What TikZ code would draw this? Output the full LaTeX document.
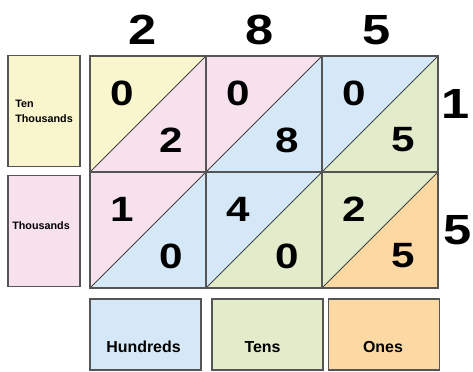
\documentclass[tikz,border=0pt]{standalone}
\usepackage{fontspec}
\setmainfont{Liberation Sans}
\newfontfamily\digitfont[FakeStretch=1.2]{Liberation Sans}
\usetikzlibrary{positioning,calc}
\definecolor{cellyellow}{HTML}{F9F5CC}
\definecolor{cellpink}{HTML}{F6E1EC}
\definecolor{cellblue}{HTML}{D4E8F7}
\definecolor{cellgreen}{HTML}{E2ECCB}
\definecolor{cellorange}{HTML}{FCD9A2}
\definecolor{gridgray}{HTML}{555555}

\begin{document}
\begin{tikzpicture}[
    x=0.3mm, y=-0.3mm,
    gridline/.style={draw=gridgray, line width=1.2pt},
    diag/.style={draw=gridgray!80!black, line width=0.8pt},
    tallbox/.style={gridline, line width=1.4pt, minimum width=21.6mm, minimum height=33.3mm, inner sep=0pt},
    widebox/.style={gridline, line width=1.4pt, minimum width=33.3mm, minimum height=21.3mm, inner sep=0pt},
    celldigit/.style={font=\digitfont\bfseries\fontsize{30}{30}\selectfont, inner sep=0pt},
    bigdigit/.style={font=\digitfont\bfseries\fontsize{36}{36}\selectfont, inner sep=0pt},
    lbl/.style={font=\bfseries\fontsize{13.6}{15}\selectfont, inner sep=0pt},
    lblsmall/.style={font=\bfseries\fontsize{9.2}{13}\selectfont, align=left, inner sep=0pt}
]
\useasboundingbox (0,0) rectangle (473,372);

% place-value boxes
\node[tallbox, fill=cellyellow] (tenth) at (44,111) {};
\node[tallbox, fill=cellpink] (thou) at (44,231) {};
\node[widebox, fill=cellblue] (hund) at (145.5,334.5) {};
\node[widebox, fill=cellgreen] (tens) at (267.5,334.5) {};
\node[widebox, fill=cellorange] (ones) at (384,334.5) {};

\node[lblsmall] (tenthtxt) at (tenth) {Ten\\Thousands};
\node[lblsmall] (thoutxt) at ($(thou)+(-3,-5)$) {Thousands};
\node[lbl] (hundtxt) at ($(hund)+(-2,12.5)$) {Hundreds};
\node[lbl] (tenstxt) at ($(tens)+(-5,12.5)$) {Tens};
\node[lbl] (onestxt) at ($(ones)+(-1,12.5)$) {Ones};

% lattice cells
\foreach \c/\r/\up/\lo/\du/\dl [count=\k] in {
    0/0/cellyellow/cellpink/0/2, 1/0/cellpink/cellblue/0/8, 2/0/cellblue/cellgreen/0/5,
    0/1/cellpink/cellblue/1/0, 1/1/cellblue/cellgreen/4/0, 2/1/cellgreen/cellorange/2/5}{
  \coordinate (nw\k) at (90+116*\c, 56+116*\r);
  \fill[\up] (nw\k) -- ++(116,0) -- ++(-116,116) -- cycle;
  \fill[\lo] ($(nw\k)+(116,0)$) -- ++(0,116) -- ++(-116,0) -- cycle;
  \draw[diag] ($(nw\k)+(0,116)$) -- ++(116,-116);
  \draw[gridline] (nw\k) rectangle ++(116,116);
  \node[celldigit] (up\k) at ($(nw\k)+(32,37)$) {\du};
  \node[celldigit] (lo\k) at ($(nw\k)+(81,84)$) {\dl};
}

% factors
\foreach \d [count=\i from 0] in {2,8,5}
  \node[bigdigit] (top\i) at (143+117*\i,30) {\d};
\node[bigdigit] (side0) at (456,104) {1};
\node[bigdigit] (side1) at (458,230) {5};
\end{tikzpicture}
\end{document}
